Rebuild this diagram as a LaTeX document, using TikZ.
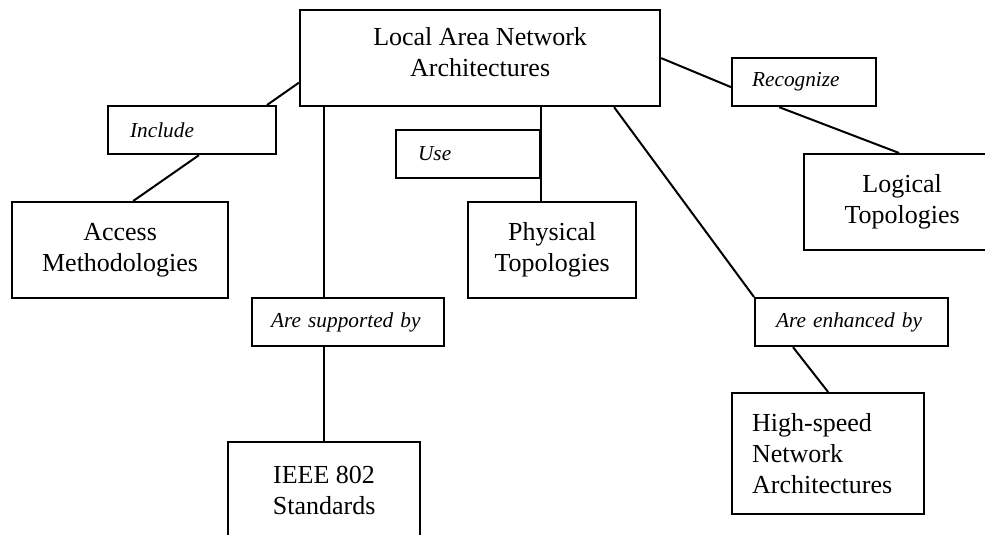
\documentclass[tikz,border=0pt]{standalone}
\usepackage{fontspec}
\setmainfont{Liberation Serif}
\usepackage{tikz}
\usetikzlibrary{calc}
\newcommand{\bigtxt}{\fontsize{26}{31}\selectfont}
\newcommand{\verbtxt}{\fontsize{21.3}{26}\selectfont\itshape}

\begin{document}
\begin{tikzpicture}[x=1pt, y=-1pt,
    conceptbox/.style={draw, line width=2.2pt, anchor=north west, inner sep=0pt,
        align=center, font=\bigtxt},
    linkbox/.style={draw, line width=2.2pt, anchor=north west, inner ysep=0pt,
        inner xsep=20pt, align=left, font=\verbtxt},
    link/.style={line width=2pt}]
\useasboundingbox (0,0) rectangle (985,535);
\clip (0,0) rectangle (985,535);
% concepts
\node[conceptbox, minimum width=360pt, minimum height=96pt, text depth=12pt]
    (lan) at (299,9) {Local Area Network\\Architectures};
\node[conceptbox, minimum width=216pt, minimum height=96pt]
    (access) at (11,201) {Access\\Methodologies};
\node[conceptbox, minimum width=168pt, minimum height=96pt]
    (phys) at (467,201) {Physical\\Topologies};
\node[conceptbox, minimum width=196pt, minimum height=96pt]
    (logic) at (803,153) {Logical\\Topologies};
\node[conceptbox, minimum width=192pt, minimum height=97pt]
    (ieee) at (227,441) {IEEE 802\\Standards};
\node[conceptbox, align=left, inner xsep=20pt, text width=152pt, minimum height=121pt]
    (hs) at (731,392) {High-speed\\Network\\Architectures};
% links
\node[linkbox, text width=128pt, minimum height=48pt] (include) at (107,105) {\hspace*{2pt}Include};
\node[linkbox, text width=104pt, minimum height=48pt] (use) at (395,129) {\hspace*{2pt}Use};
\node[linkbox, text width=104pt, minimum height=48pt] (recog) at (731,57) {Recognize};
\node[linkbox, text width=154pt, inner xsep=19pt, minimum height=48pt]
    (sup) at (251,297) {Are supported by};
\node[linkbox, text width=153pt, minimum height=48pt] (enh) at (754,297) {\hspace*{1pt}Are enhanced by};
% connectors
\draw[link] ($(lan.north west)!0.75!(lan.south west)$)
    -- ($(include.north west)!0.94!(include.north east)$);
\draw[link] ($(include.south west)!0.54!(include.south east)$)
    -- ($(access.north west)!0.56!(access.north east)$);
\draw[link] (lan.south -| ieee.north) -- (sup.north -| ieee.north);
\draw[link] (sup.south -| ieee.north) -- (ieee.north);
\draw[link] (lan.south -| use.east) -- (phys.north -| use.east);
\draw[link] ($(lan.south west)!0.87!(lan.south east)$) -- (enh.north west);
\draw[link] ($(enh.south west)!0.2!(enh.south east)$) -- (hs.north);
\draw[link] (lan.east) -- ($(recog.north west)!0.6!(recog.south west)$);
\draw[link] ($(recog.south west)!0.33!(recog.south east)$)
    -- ($(logic.north west)!0.485!(logic.north east)$);
\end{tikzpicture}
\end{document}
